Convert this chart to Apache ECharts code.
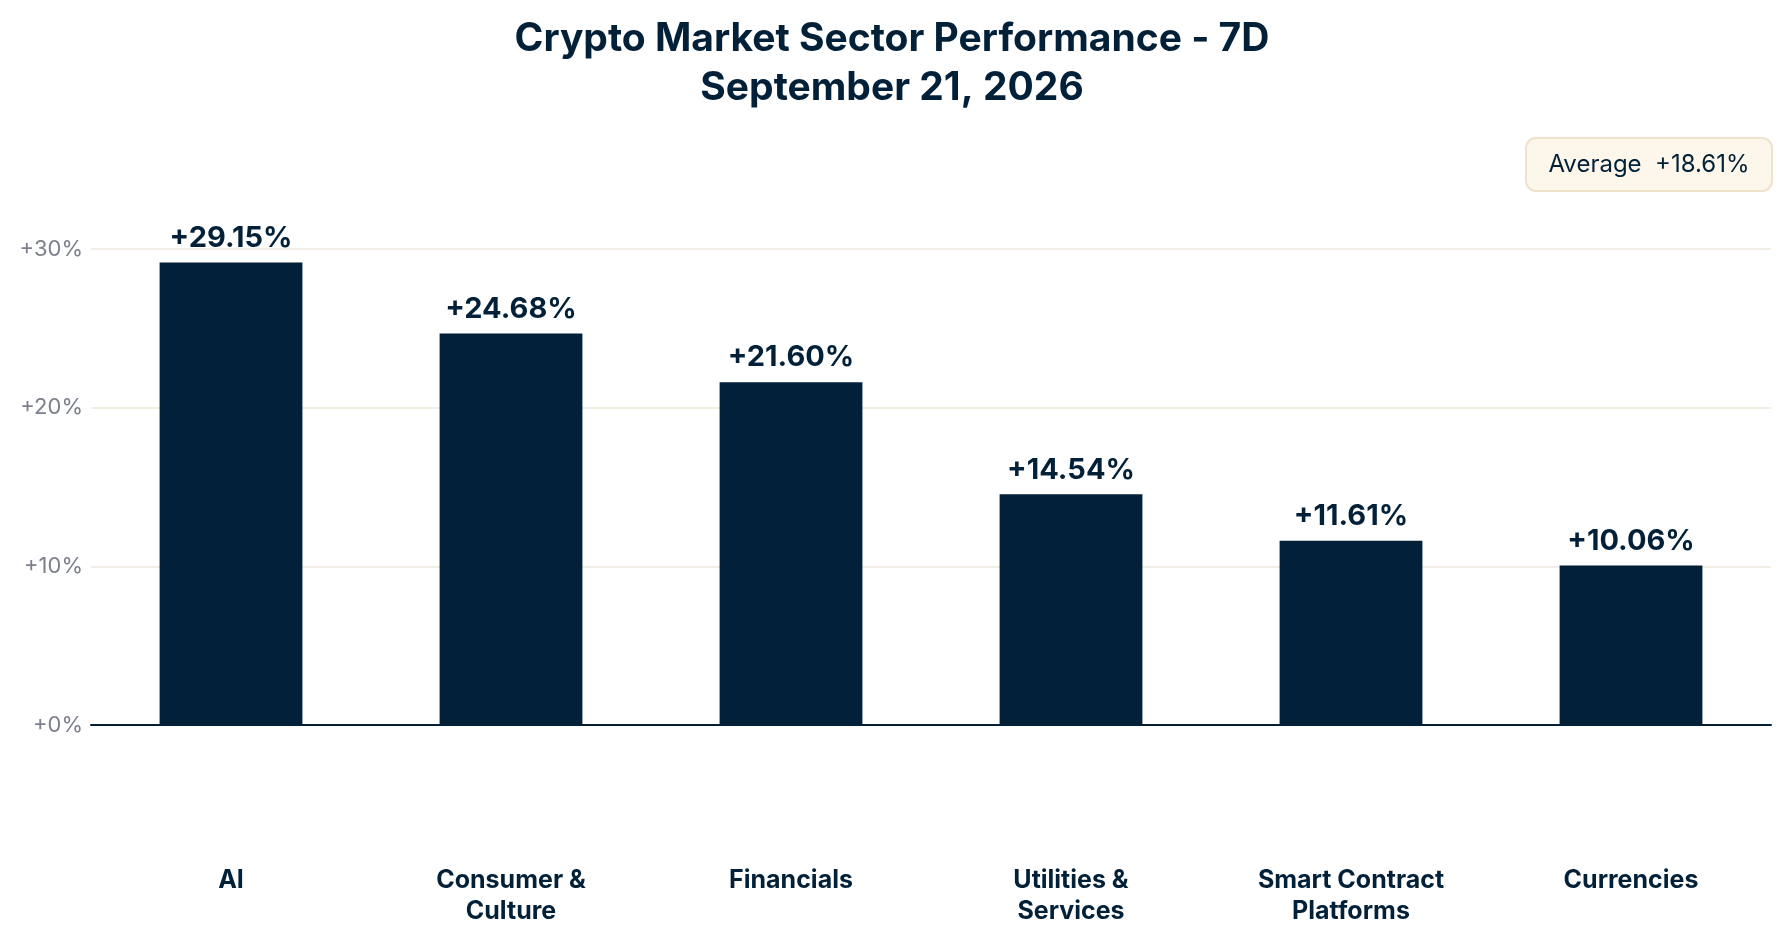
<!DOCTYPE html>
<html>
<head>
<meta charset="utf-8">
<script src="https://cdn.jsdelivr.net/npm/echarts@6/dist/echarts.min.js"></script>
<style>html,body{margin:0;padding:0;background:#fff}#chart{width:1784px;height:944px}</style>
</head>
<body>
<div id="chart"></div>
<script>
const categories = ['AI', 'Consumer &\nCulture', 'Financials', 'Utilities &\nServices', 'Smart Contract\nPlatforms', 'Currencies'];
const values = [29.15, 24.68, 21.60, 14.54, 11.61, 10.06];
const yTicks = [0, 10, 20, 30];
const average = 18.61;

const dark = '#022139';
const font = 'Inter, "Noto Sans", sans-serif';
const chart = echarts.init(document.getElementById('chart'));
chart.setOption({
  backgroundColor: '#fff',
  textStyle: {fontFamily: font},
  title: {
    text: 'Crypto Market Sector Performance - 7D\nSeptember 21, 2026',
    left: 'center', top: 10,
    textStyle: {fontSize: 39, fontWeight: 'bold', color: dark, lineHeight: 49, fontFamily: font}
  },
  graphic: [{
    type: 'group', right: 11, top: 137,
    children: [
      {type: 'rect', shape: {x: 0, y: 0, width: 246, height: 53, r: 10},
       style: {fill: '#fdf6ea', stroke: '#efe2cc', lineWidth: 2}},
      {type: 'text', x: 123, y: 27, style: {text: 'Average  +' + average.toFixed(2) + '%', fill: dark,
       font: '24px ' + font, align: 'center', verticalAlign: 'middle'}}
    ]
  }],
  grid: {left: 91, right: 13, top: 249, bottom: 219},
  xAxis: {
    type: 'category', data: categories,
    axisLine: {lineStyle: {color: dark, width: 2}},
    axisTick: {show: false},
    axisLabel: {margin: 140, fontSize: 25, fontWeight: 'bold', color: dark, lineHeight: 31, fontFamily: font}
  },
  yAxis: {
    type: 'value', min: yTicks[0], max: yTicks[yTicks.length - 1], interval: 10,
    axisLabel: {formatter: v => '+' + v + '%', fontSize: 22, color: '#7b808c', fontFamily: font, margin: 8},
    splitLine: {lineStyle: {color: '#efe8dc', width: 1.5}},
    axisLine: {show: false}, axisTick: {show: false}
  },
  series: [{
    type: 'bar', data: values, barWidth: '51%',
    itemStyle: {color: dark},
    label: {show: true, position: 'top', distance: 10, formatter: p => '+' + p.value.toFixed(2) + '%',
      fontSize: 29, fontWeight: 'bold', color: dark, fontFamily: font}
  }]
});
</script>
</body>
</html>
